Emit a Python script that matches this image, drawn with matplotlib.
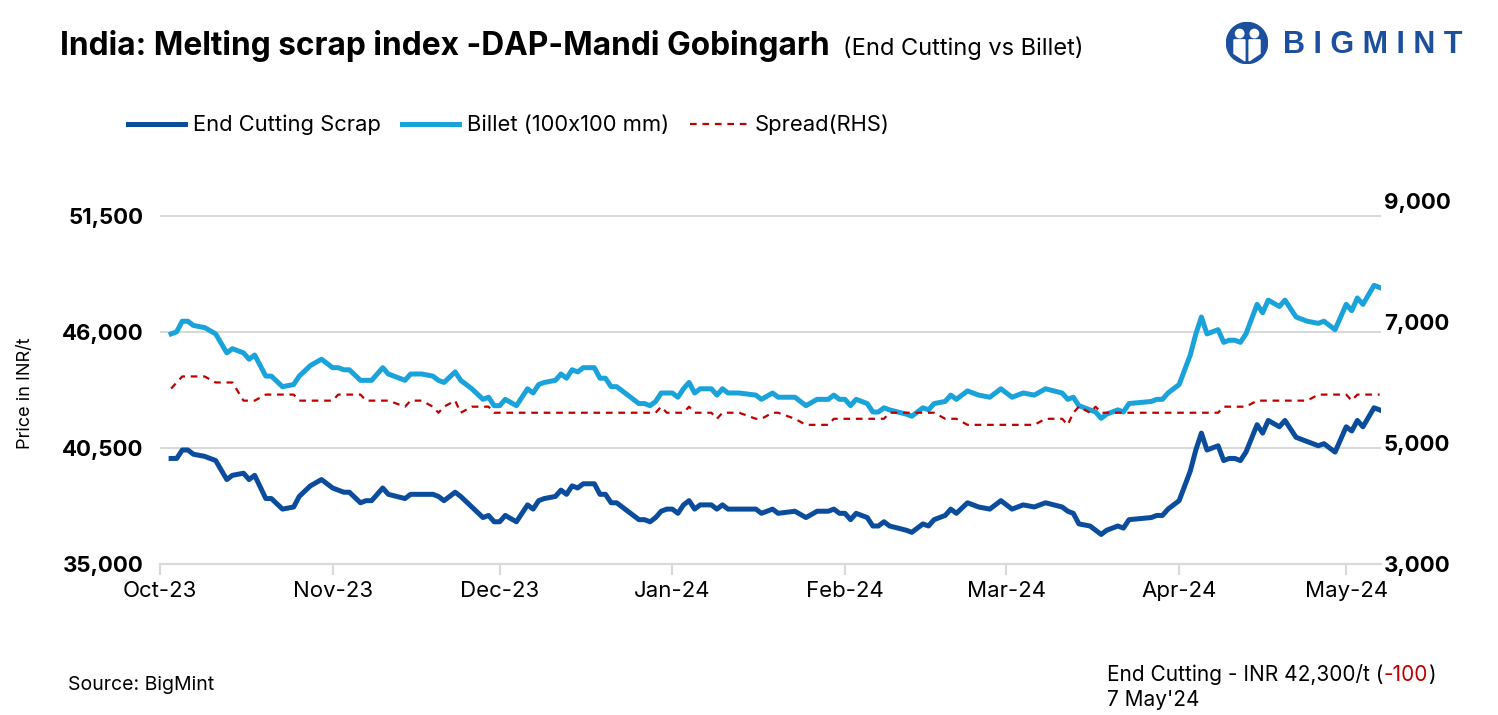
import pandas as pd
import numpy as np
import matplotlib
matplotlib.use('Agg')
import matplotlib.pyplot as plt
import matplotlib.dates as mdates
import matplotlib.ticker as mticker
from matplotlib.patches import Circle, Polygon
from matplotlib.lines import Line2D

plt.rcParams['font.family'] = ['Inter', 'DejaVu Sans']

dates = [
    '2023-10-03', '2023-10-04', '2023-10-05', '2023-10-06', '2023-10-07', '2023-10-09',
    '2023-10-11', '2023-10-13', '2023-10-14', '2023-10-16', '2023-10-17', '2023-10-18',
    '2023-10-20', '2023-10-21', '2023-10-23', '2023-10-25', '2023-10-26', '2023-10-28',
    '2023-10-30', '2023-11-01', '2023-11-02', '2023-11-03', '2023-11-04', '2023-11-06',
    '2023-11-07', '2023-11-08', '2023-11-10', '2023-11-11', '2023-11-14', '2023-11-15',
    '2023-11-17', '2023-11-19', '2023-11-20', '2023-11-21', '2023-11-23', '2023-11-24',
    '2023-11-26', '2023-11-28', '2023-11-29', '2023-11-30', '2023-12-01', '2023-12-02',
    '2023-12-04', '2023-12-06', '2023-12-07', '2023-12-08', '2023-12-09', '2023-12-11',
    '2023-12-12', '2023-12-13', '2023-12-14', '2023-12-15', '2023-12-16', '2023-12-18',
    '2023-12-19', '2023-12-20', '2023-12-21', '2023-12-22', '2023-12-24', '2023-12-26',
    '2023-12-27', '2023-12-28', '2023-12-29', '2023-12-30', '2023-12-31', '2024-01-01',
    '2024-01-02', '2024-01-03', '2024-01-04', '2024-01-05', '2024-01-06', '2024-01-08',
    '2024-01-09', '2024-01-10', '2024-01-11', '2024-01-13', '2024-01-16', '2024-01-17',
    '2024-01-19', '2024-01-20', '2024-01-23', '2024-01-25', '2024-01-27', '2024-01-29',
    '2024-01-30', '2024-01-31', '2024-02-01', '2024-02-02', '2024-02-03', '2024-02-05',
    '2024-02-06', '2024-02-07', '2024-02-08', '2024-02-09', '2024-02-12', '2024-02-13',
    '2024-02-15', '2024-02-16', '2024-02-17', '2024-02-19', '2024-02-20', '2024-02-21',
    '2024-02-23', '2024-02-25', '2024-02-27', '2024-02-29', '2024-03-02', '2024-03-04',
    '2024-03-06', '2024-03-08', '2024-03-11', '2024-03-12', '2024-03-13', '2024-03-14',
    '2024-03-16', '2024-03-17', '2024-03-18', '2024-03-19', '2024-03-21', '2024-03-22',
    '2024-03-23', '2024-03-27', '2024-03-28', '2024-03-29', '2024-03-30', '2024-04-01',
    '2024-04-02', '2024-04-03', '2024-04-04', '2024-04-05', '2024-04-06', '2024-04-08',
    '2024-04-09', '2024-04-10', '2024-04-11', '2024-04-12', '2024-04-13', '2024-04-15',
    '2024-04-16', '2024-04-17', '2024-04-19', '2024-04-20', '2024-04-22', '2024-04-24',
    '2024-04-26', '2024-04-27', '2024-04-29', '2024-05-01', '2024-05-02', '2024-05-03',
    '2024-05-04', '2024-05-06', '2024-05-07',
]

end_cutting = [
    40000, 40000, 40400, 40400, 40200, 40100, 39900, 39000, 39200, 39300, 39000, 39200,
    38100, 38100, 37600, 37700, 38200, 38700, 39000, 38600, 38500, 38400, 38400, 37900,
    38000, 38000, 38600, 38300, 38100, 38300, 38300, 38300, 38200, 38000, 38400, 38200,
    37700, 37200, 37300, 37000, 37000, 37300, 37000, 37800, 37600, 38000, 38100, 38200,
    38500, 38300, 38700, 38600, 38800, 38800, 38300, 38300, 37900, 37900, 37500, 37100,
    37100, 37000, 37200, 37500, 37600, 37600, 37400, 37800, 38000, 37600, 37800, 37800,
    37600, 37800, 37600, 37600, 37600, 37400, 37600, 37400, 37500, 37200, 37500, 37500,
    37600, 37400, 37400, 37100, 37400, 37200, 36800, 36800, 37000, 36800, 36600, 36500,
    36900, 36800, 37100, 37300, 37600, 37400, 37900, 37700, 37600, 38000, 37600, 37800,
    37700, 37900, 37700, 37500, 37400, 36900, 36800, 36600, 36400, 36600, 36800, 36700,
    37100, 37200, 37300, 37300, 37600, 38000, 38700, 39400, 40400, 41200, 40400, 40600,
    39900, 40000, 40000, 39900, 40300, 41600, 41200, 41800, 41500, 41800, 41000, 40800,
    40600, 40700, 40300, 41500, 41300, 41800, 41500, 42400, 42300,
]

billet = [
    45900, 46000, 46500, 46500, 46300, 46200, 45900, 45000, 45200, 45000, 44700, 44900,
    43900, 43900, 43400, 43500, 43900, 44400, 44700, 44300, 44300, 44200, 44200, 43700,
    43700, 43700, 44300, 44000, 43700, 44000, 44000, 43900, 43700, 43600, 44100, 43700,
    43300, 42800, 42900, 42500, 42500, 42800, 42500, 43300, 43100, 43500, 43600, 43700,
    44000, 43800, 44200, 44100, 44300, 44300, 43800, 43800, 43400, 43400, 43000, 42600,
    42600, 42500, 42700, 43100, 43100, 43100, 42900, 43300, 43600, 43100, 43300, 43300,
    43000, 43300, 43100, 43100, 43000, 42800, 43100, 42900, 42900, 42500, 42800, 42800,
    43000, 42800, 42800, 42500, 42800, 42600, 42200, 42200, 42400, 42300, 42100, 42000,
    42400, 42300, 42600, 42700, 43000, 42800, 43200, 43000, 42900, 43300, 42900, 43100,
    43000, 43300, 43100, 42800, 42900, 42500, 42300, 42200, 41900, 42100, 42300, 42200,
    42600, 42700, 42800, 42800, 43100, 43500, 44200, 44900, 45900, 46700, 45900, 46100,
    45500, 45600, 45600, 45500, 45900, 47300, 46900, 47500, 47200, 47500, 46700, 46500,
    46400, 46500, 46100, 47300, 47000, 47600, 47300, 48200, 48100,
]

spread = [
    5900, 6000, 6100, 6100, 6100, 6100, 6000, 6000, 6000, 5700, 5700, 5700,
    5800, 5800, 5800, 5800, 5700, 5700, 5700, 5700, 5800, 5800, 5800, 5800,
    5700, 5700, 5700, 5700, 5600, 5700, 5700, 5600, 5500, 5600, 5700, 5500,
    5600, 5600, 5600, 5500, 5500, 5500, 5500, 5500, 5500, 5500, 5500, 5500,
    5500, 5500, 5500, 5500, 5500, 5500, 5500, 5500, 5500, 5500, 5500, 5500,
    5500, 5500, 5500, 5600, 5500, 5500, 5500, 5500, 5600, 5500, 5500, 5500,
    5400, 5500, 5500, 5500, 5400, 5400, 5500, 5500, 5400, 5300, 5300, 5300,
    5400, 5400, 5400, 5400, 5400, 5400, 5400, 5400, 5400, 5500, 5500, 5500,
    5500, 5500, 5500, 5400, 5400, 5400, 5300, 5300, 5300, 5300, 5300, 5300,
    5300, 5400, 5400, 5300, 5500, 5600, 5500, 5600, 5500, 5500, 5500, 5500,
    5500, 5500, 5500, 5500, 5500, 5500, 5500, 5500, 5500, 5500, 5500, 5500,
    5600, 5600, 5600, 5600, 5600, 5700, 5700, 5700, 5700, 5700, 5700, 5700,
    5800, 5800, 5800, 5800, 5700, 5800, 5800, 5800, 5800,
]

left_ticks = [35000, 40500, 46000, 51500]
right_ticks = [3000, 5000, 7000, 9000]
month_ticks = ['2023-10-01', '2023-11-01', '2023-12-01', '2024-01-01',
               '2024-02-01', '2024-03-01', '2024-04-01', '2024-05-01']

d = pd.to_datetime(dates)

dark_blue = '#0b4c9c'
light_blue = '#1aa2da'
red = '#c00000'
grid_grey = '#d9d9d9'

fig = plt.figure(figsize=(14.98, 7.15), dpi=100)
ax = fig.add_axes([0.1068, 0.2112, 0.8151, 0.5077])
ax2 = ax.twinx()

ax.plot(d, end_cutting, color=dark_blue, lw=3.6, solid_joinstyle='round', zorder=3)
ax.plot(d, billet, color=light_blue, lw=3.6, solid_joinstyle='round', zorder=3)
ax2.plot(d, spread, color=red, lw=1.6, ls=(0, (3, 2.6)))

ax.set_ylim(35000, 52196)
ax2.set_ylim(3000, 9000)
ax.set_xlim(pd.Timestamp('2023-10-01'), pd.Timestamp('2024-05-07 06:00'))

ax.set_yticks(left_ticks)
ax2.set_yticks(right_ticks)
fmt = mticker.FuncFormatter(lambda v, p: f'{int(v):,}')
ax.yaxis.set_major_formatter(fmt)
ax2.yaxis.set_major_formatter(fmt)
ax.set_xticks(pd.to_datetime(month_ticks))
ax.xaxis.set_major_formatter(mdates.DateFormatter('%b-%y'))

ax.grid(axis='y', color=grid_grey, lw=1.5)
ax.set_axisbelow(True)
for a in (ax, ax2):
    for s in ('top', 'left', 'right'):
        a.spines[s].set_visible(False)
    a.spines['bottom'].set_color(grid_grey)
    a.spines['bottom'].set_linewidth(1.5)

ax.tick_params(axis='x', length=8, width=1.5, color=grid_grey, labelsize=16, pad=4)
ax.tick_params(axis='y', length=0, labelsize=16, pad=12)
ax2.tick_params(axis='y', length=0, labelsize=16, pad=2)
for lab in ax.get_yticklabels() + ax2.get_yticklabels():
    lab.set_fontweight('bold')

fig.text(0.0167, 0.450, 'Price in INR/t', rotation=90, fontsize=13,
         ha='center', va='center')

# title
fig.text(0.040, 0.923, 'India: Melting scrap index -DAP-Mandi Gobingarh',
         fontsize=22.8, fontweight='bold', va='baseline')
fig.text(0.5628, 0.923, '(End Cutting vs Billet)', fontsize=17, va='baseline')

# legend
handles = [Line2D([], [], color=dark_blue, lw=3.6),
           Line2D([], [], color=light_blue, lw=3.6),
           Line2D([], [], color=red, lw=1.6, ls=(0, (3, 2.6)))]
fig.legend(handles, ['End Cutting Scrap', 'Billet (100x100 mm)', 'Spread(RHS)'],
           loc='center left', bbox_to_anchor=(0.0855, 0.8252), ncol=3,
           frameon=False, fontsize=15.8, handlelength=2.6, handletextpad=0.36,
           columnspacing=0.95, borderpad=0, borderaxespad=0)

# footer
fig.text(0.0454, 0.042, 'Source: BigMint', fontsize=14, va='center')
t1 = fig.text(0.739, 0.056, 'End Cutting - INR 42,300/t (', fontsize=15, va='center')
t2 = fig.text(0, 0, '-100', fontsize=15, color=red)
t3 = fig.text(0, 0, ')', fontsize=15)
fig.text(0.739, 0.021, "7 May'24", fontsize=15, va='center')
fig.canvas.draw()
r = fig.canvas.get_renderer()
bb = t1.get_window_extent(r).transformed(fig.transFigure.inverted())
t2.set_position((bb.x1, bb.y0))
t2.set_va('bottom')
bb2 = t2.get_window_extent(r).transformed(fig.transFigure.inverted())
t3.set_position((bb2.x1, bb.y0))
t3.set_va('bottom')

# logo
logo_blue = '#1c4f9e'
lax = fig.add_axes([1226 / 1498, 1 - 64 / 715, 42 / 1498, 42 / 715])
lax.set_xlim(-1, 1)
lax.set_ylim(-1, 1)
lax.set_aspect('equal')
lax.axis('off')
lax.add_patch(Circle((0, 0), 0.98, color=logo_blue))
lax.add_patch(Circle((-0.35, 0.45), 0.2, color='white'))
lax.add_patch(Circle((0.35, 0.45), 0.2, color='white'))
lax.add_patch(Polygon([(-0.62, 0.15), (-0.1, 0.15), (-0.1, -0.85), (-0.62, -0.5)], color='white'))
lax.add_patch(Polygon([(0.1, 0.15), (0.62, 0.15), (0.62, -0.5), (0.1, -0.85)], color='white'))
fig.text(1283 / 1498, 1 - 45 / 715, 'B I G M I N T', fontsize=22, fontweight='bold',
         color=logo_blue, va='center', family='Liberation Sans')

fig.savefig('out.png', dpi=100)
